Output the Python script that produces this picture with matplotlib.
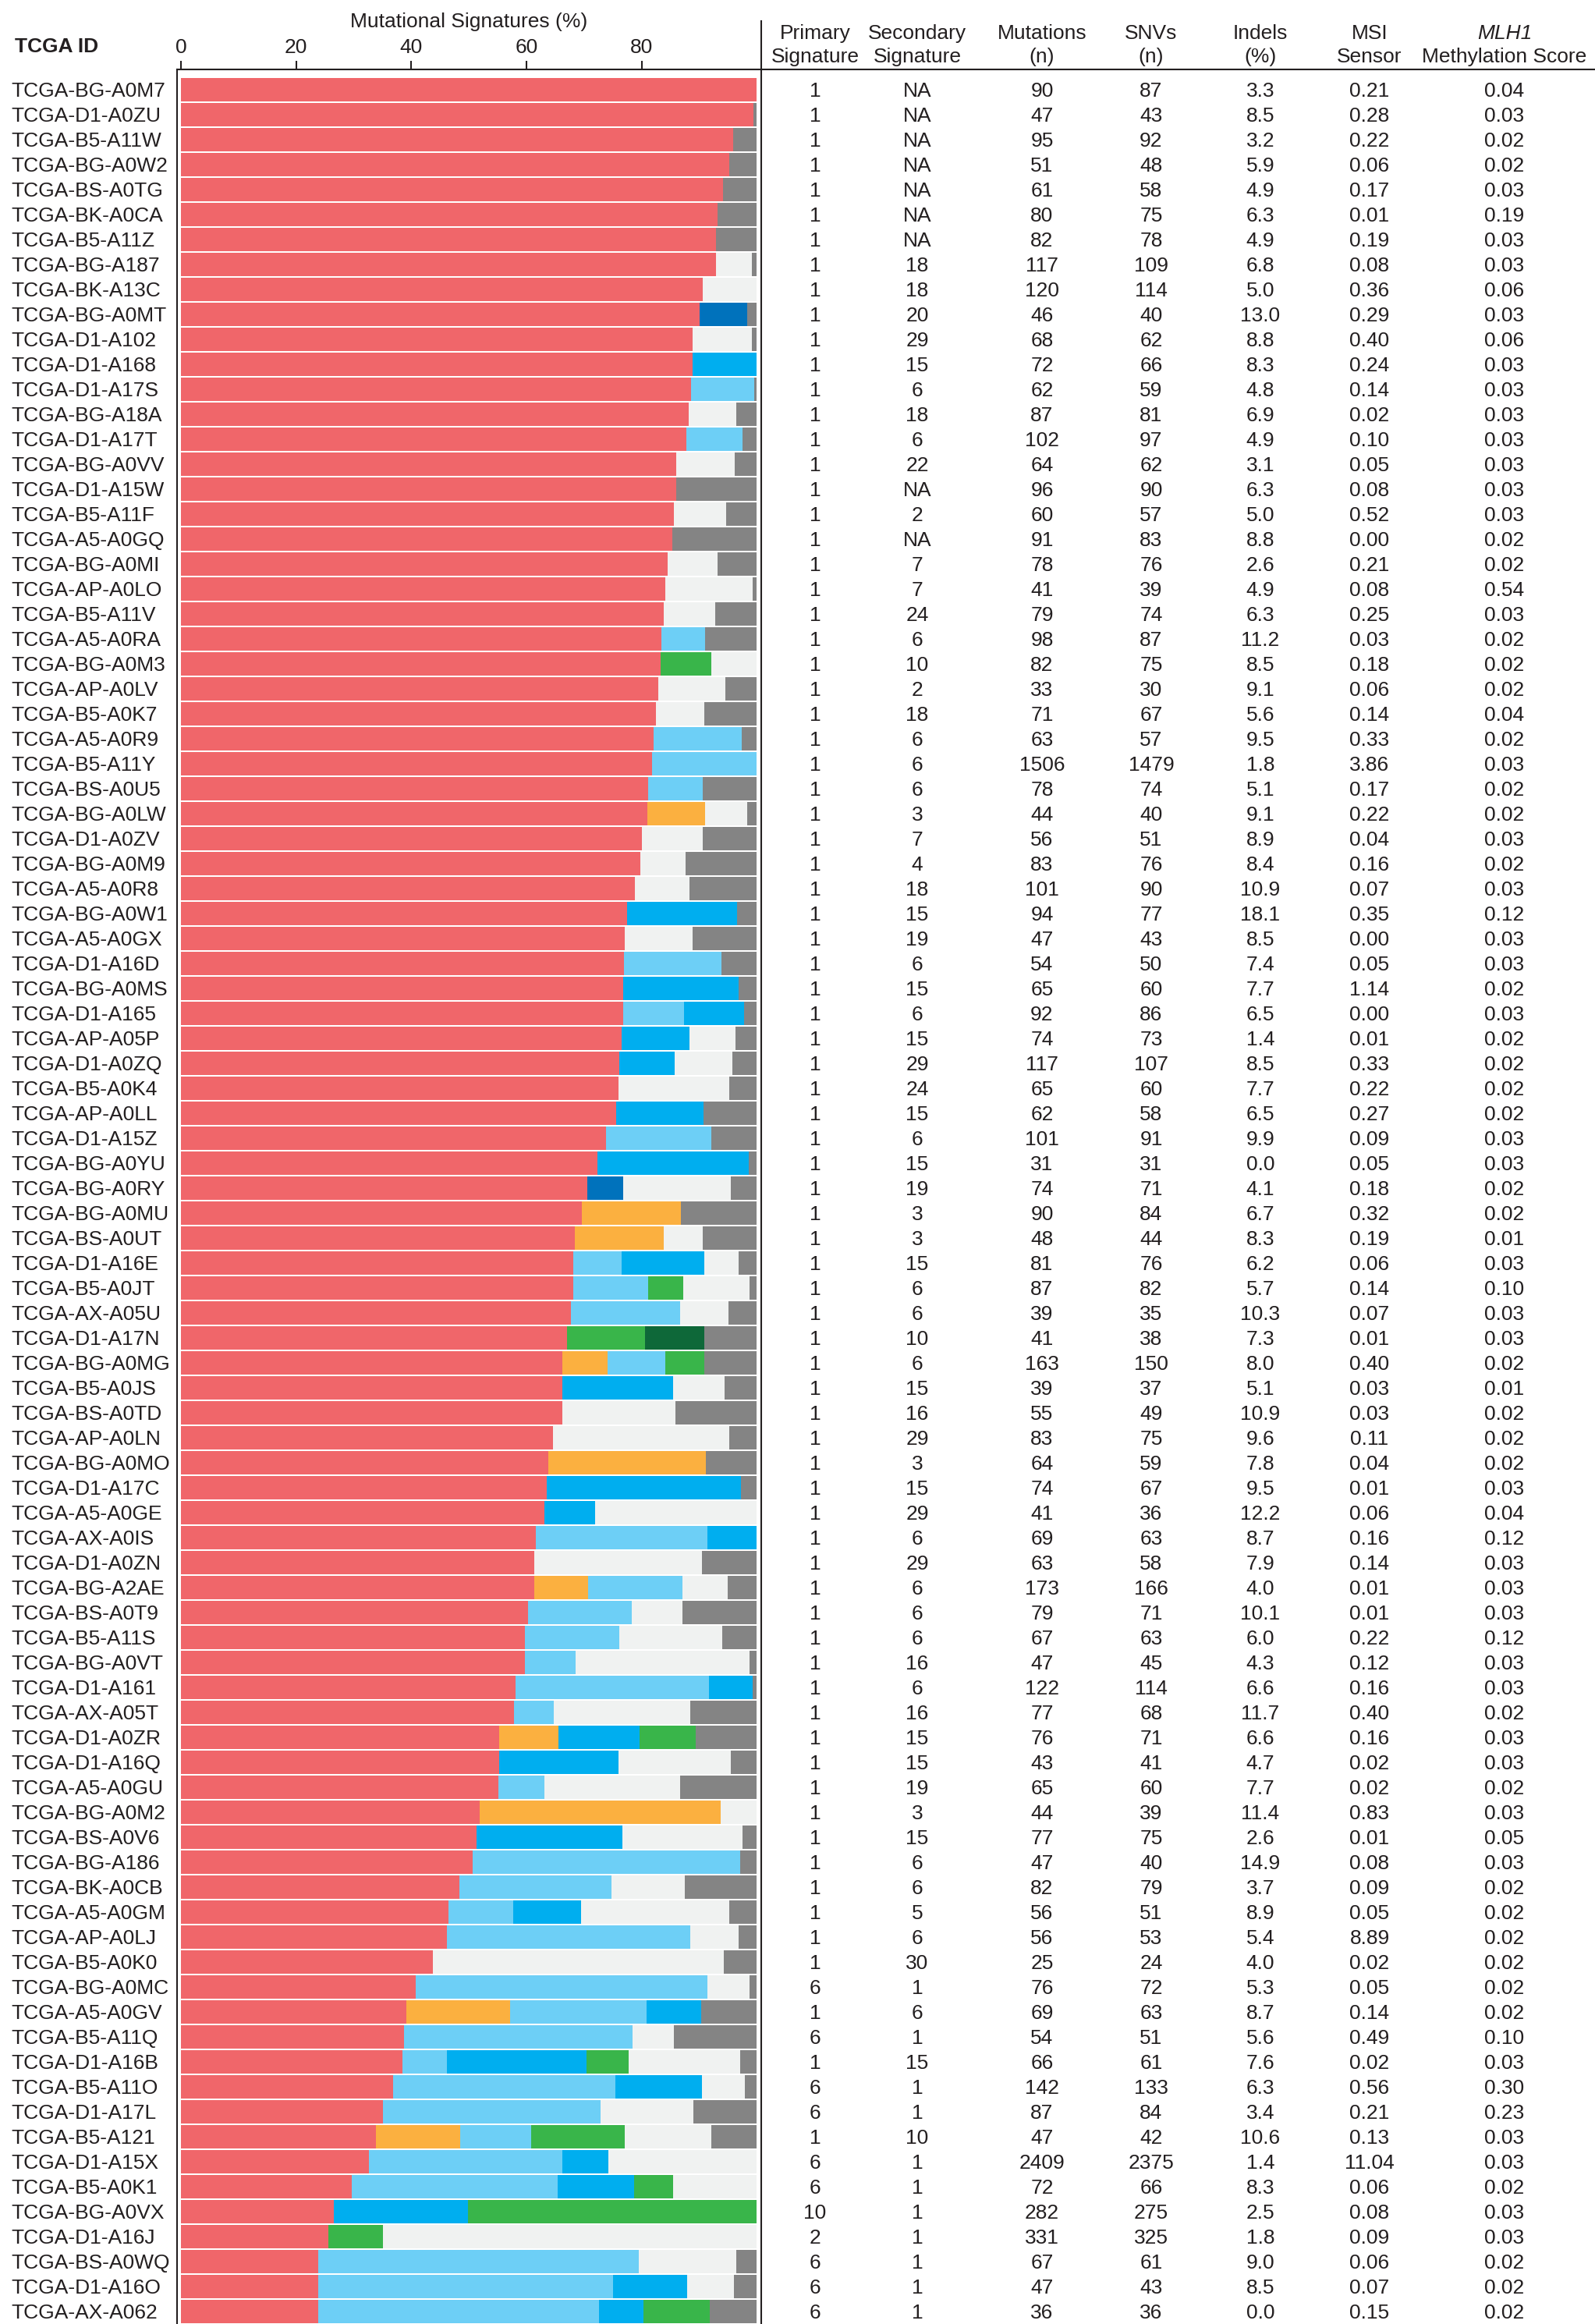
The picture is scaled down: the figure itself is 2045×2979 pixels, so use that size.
import numpy as np
import matplotlib
matplotlib.use('Agg')
import matplotlib.pyplot as plt
from matplotlib.lines import Line2D
from matplotlib.transforms import blended_transform_factory

plt.rcParams['font.family'] = ['Liberation Sans', 'DejaVu Sans']
plt.rcParams['font.size'] = 19

# ---- data (rows top to bottom) ----
tcga_ids = [
    'TCGA-BG-A0M7', 'TCGA-D1-A0ZU', 'TCGA-B5-A11W', 'TCGA-BG-A0W2', 'TCGA-BS-A0TG',
    'TCGA-BK-A0CA', 'TCGA-B5-A11Z', 'TCGA-BG-A187', 'TCGA-BK-A13C', 'TCGA-BG-A0MT',
    'TCGA-D1-A102', 'TCGA-D1-A168', 'TCGA-D1-A17S', 'TCGA-BG-A18A', 'TCGA-D1-A17T',
    'TCGA-BG-A0VV', 'TCGA-D1-A15W', 'TCGA-B5-A11F', 'TCGA-A5-A0GQ', 'TCGA-BG-A0MI',
    'TCGA-AP-A0LO', 'TCGA-B5-A11V', 'TCGA-A5-A0RA', 'TCGA-BG-A0M3', 'TCGA-AP-A0LV',
    'TCGA-B5-A0K7', 'TCGA-A5-A0R9', 'TCGA-B5-A11Y', 'TCGA-BS-A0U5', 'TCGA-BG-A0LW',
    'TCGA-D1-A0ZV', 'TCGA-BG-A0M9', 'TCGA-A5-A0R8', 'TCGA-BG-A0W1', 'TCGA-A5-A0GX',
    'TCGA-D1-A16D', 'TCGA-BG-A0MS', 'TCGA-D1-A165', 'TCGA-AP-A05P', 'TCGA-D1-A0ZQ',
    'TCGA-B5-A0K4', 'TCGA-AP-A0LL', 'TCGA-D1-A15Z', 'TCGA-BG-A0YU', 'TCGA-BG-A0RY',
    'TCGA-BG-A0MU', 'TCGA-BS-A0UT', 'TCGA-D1-A16E', 'TCGA-B5-A0JT', 'TCGA-AX-A05U',
    'TCGA-D1-A17N', 'TCGA-BG-A0MG', 'TCGA-B5-A0JS', 'TCGA-BS-A0TD', 'TCGA-AP-A0LN',
    'TCGA-BG-A0MO', 'TCGA-D1-A17C', 'TCGA-A5-A0GE', 'TCGA-AX-A0IS', 'TCGA-D1-A0ZN',
    'TCGA-BG-A2AE', 'TCGA-BS-A0T9', 'TCGA-B5-A11S', 'TCGA-BG-A0VT', 'TCGA-D1-A161',
    'TCGA-AX-A05T', 'TCGA-D1-A0ZR', 'TCGA-D1-A16Q', 'TCGA-A5-A0GU', 'TCGA-BG-A0M2',
    'TCGA-BS-A0V6', 'TCGA-BG-A186', 'TCGA-BK-A0CB', 'TCGA-A5-A0GM', 'TCGA-AP-A0LJ',
    'TCGA-B5-A0K0', 'TCGA-BG-A0MC', 'TCGA-A5-A0GV', 'TCGA-B5-A11Q', 'TCGA-D1-A16B',
    'TCGA-B5-A11O', 'TCGA-D1-A17L', 'TCGA-B5-A121', 'TCGA-D1-A15X', 'TCGA-B5-A0K1',
    'TCGA-BG-A0VX', 'TCGA-D1-A16J', 'TCGA-BS-A0WQ', 'TCGA-D1-A16O', 'TCGA-AX-A062',
]

# signature contributions (%), stacked in this order
sig1 = [100, 99.5, 95.9, 95.2, 94.2, 93.2, 92.9, 92.9, 90.6, 90.1,
        88.9, 88.9, 88.6, 88.2, 87.8, 86.0, 86.0, 85.6, 85.3, 84.5,
        84.1, 83.9, 83.4, 83.3, 82.9, 82.5, 82.1, 81.8, 81.1, 81.0,
        80.1, 79.8, 78.8, 77.5, 77.1, 76.9, 76.8, 76.8, 76.5, 76.2,
        76.0, 75.6, 73.8, 72.3, 70.6, 69.6, 68.4, 68.2, 68.2, 67.7,
        67.0, 66.3, 66.3, 66.3, 64.6, 63.8, 63.6, 63.1, 61.7, 61.4,
        61.3, 60.3, 59.8, 59.7, 58.1, 57.8, 55.3, 55.2, 55.1, 51.9,
        51.4, 50.6, 48.3, 46.5, 46.2, 43.7, 40.7, 39.2, 38.8, 38.4,
        36.9, 35.1, 33.8, 32.7, 29.7, 26.5, 25.6, 23.8, 23.8, 23.8]
sig3 = [0, 0, 0, 0, 0, 0, 0, 0, 0, 0,
        0, 0, 0, 0, 0, 0, 0, 0, 0, 0,
        0, 0, 0, 0, 0, 0, 0, 0, 0, 10.1,
        0, 0, 0, 0, 0, 0, 0, 0, 0, 0,
        0, 0, 0, 0, 0, 17.2, 15.5, 0, 0, 0,
        0, 7.8, 0, 0, 0, 27.4, 0, 0, 0, 0,
        9.4, 0, 0, 0, 0, 0, 10.2, 0, 0, 41.9,
        0, 0, 0, 0, 0, 0, 0, 17.9, 0, 0,
        0, 0, 14.7, 0, 0, 0, 0, 0, 0, 0]
sig6 = [0, 0, 0, 0, 0, 0, 0, 0, 0, 0,
        0, 0, 11.0, 0, 9.7, 0, 0, 0, 0, 0,
        0, 0, 7.7, 0, 0, 0, 15.3, 18.2, 9.6, 0,
        0, 0, 0, 0, 0, 17.0, 0, 10.6, 0, 0,
        0, 0, 18.3, 0, 0, 0, 0, 8.4, 13.0, 19.0,
        0, 10.0, 0, 0, 0, 0, 0, 0, 29.8, 0,
        16.4, 18.0, 16.3, 8.9, 33.6, 7.0, 0, 0, 8.0, 0,
        0, 46.6, 26.5, 11.2, 42.3, 0, 50.8, 23.8, 39.6, 7.8,
        38.6, 37.8, 12.3, 33.5, 35.7, 0, 0, 55.7, 51.2, 48.8]
sig15 = [0, 0, 0, 0, 0, 0, 0, 0, 0, 0,
         0, 11.1, 0, 0, 0, 0, 0, 0, 0, 0,
         0, 0, 0, 0, 0, 0, 0, 0, 0, 0,
         0, 0, 0, 19.1, 0, 0, 20.1, 10.4, 11.9, 9.5,
         0, 15.2, 0, 26.3, 0, 0, 0, 14.3, 0, 0,
         0, 0, 19.2, 0, 0, 0, 33.7, 8.8, 8.5, 0,
         0, 0, 0, 0, 7.6, 0, 14.1, 20.8, 0, 0,
         25.3, 0, 0, 11.8, 0, 0, 0, 9.5, 0, 24.3,
         15.0, 0, 0, 8.1, 13.3, 23.3, 0, 0, 12.9, 7.8]
sig20 = [0, 0, 0, 0, 0, 0, 0, 0, 0, 8.2,
         0, 0, 0, 0, 0, 0, 0, 0, 0, 0,
         0, 0, 0, 0, 0, 0, 0, 0, 0, 0,
         0, 0, 0, 0, 0, 0, 0, 0, 0, 0,
         0, 0, 0, 0, 6.2, 0, 0, 0, 0, 0,
         0, 0, 0, 0, 0, 0, 0, 0, 0, 0,
         0, 0, 0, 0, 0, 0, 0, 0, 0, 0,
         0, 0, 0, 0, 0, 0, 0, 0, 0, 0,
         0, 0, 0, 0, 0, 0, 0, 0, 0, 0]
sig10 = [0, 0, 0, 0, 0, 0, 0, 0, 0, 0,
         0, 0, 0, 0, 0, 0, 0, 0, 0, 0,
         0, 0, 0, 8.8, 0, 0, 0, 0, 0, 0,
         0, 0, 0, 0, 0, 0, 0, 0, 0, 0,
         0, 0, 0, 0, 0, 0, 0, 0, 6.0, 0,
         13.6, 6.8, 0, 0, 0, 0, 0, 0, 0, 0,
         0, 0, 0, 0, 0, 0, 9.8, 0, 0, 0,
         0, 0, 0, 0, 0, 0, 0, 0, 0, 7.2,
         0, 0, 16.3, 0, 6.8, 50.2, 9.5, 0, 0, 11.4]
sig10b = [0, 0, 0, 0, 0, 0, 0, 0, 0, 0,
          0, 0, 0, 0, 0, 0, 0, 0, 0, 0,
          0, 0, 0, 0, 0, 0, 0, 0, 0, 0,
          0, 0, 0, 0, 0, 0, 0, 0, 0, 0,
          0, 0, 0, 0, 0, 0, 0, 0, 0, 0,
          10.3, 0, 0, 0, 0, 0, 0, 0, 0, 0,
          0, 0, 0, 0, 0, 0, 0, 0, 0, 0,
          0, 0, 0, 0, 0, 0, 0, 0, 0, 0,
          0, 0, 0, 0, 0, 0, 0, 0, 0, 0]
other = [0, 0, 0, 0, 0, 0, 0, 6.3, 9.4, 0,
         10.3, 0, 0, 8.3, 0, 10.2, 0, 9.1, 0, 8.7,
         15.2, 8.9, 0, 7.9, 11.7, 8.4, 0, 0, 0, 7.3,
         10.5, 7.8, 9.6, 0, 11.8, 0, 0, 0, 7.9, 10.1,
         19.2, 0, 0, 0, 18.7, 0, 6.7, 6.0, 11.6, 8.4,
         0, 0, 8.9, 19.6, 30.6, 0, 0, 28.1, 0, 29.1,
         7.9, 8.8, 17.9, 30.2, 0, 23.7, 0, 19.5, 23.6, 6.2,
         20.9, 0, 12.7, 25.8, 8.4, 50.6, 7.3, 0, 7.2, 19.5,
         7.4, 16.1, 15.0, 25.7, 14.5, 0, 64.9, 16.9, 8.2, 0]
residual = [0, 0.5, 4.1, 4.8, 5.8, 6.8, 7.1, 0.8, 0, 1.7,
            0.8, 0, 0.4, 3.5, 2.5, 3.8, 14.0, 5.3, 14.7, 6.8,
            0.7, 7.2, 8.9, 0, 5.4, 9.1, 2.6, 0, 9.3, 1.6,
            9.4, 12.4, 11.6, 3.4, 11.1, 6.1, 3.1, 2.2, 3.7, 4.2,
            4.8, 9.2, 7.9, 1.4, 4.5, 13.2, 9.4, 3.1, 1.2, 4.9,
            9.1, 9.1, 5.6, 14.1, 4.8, 8.8, 2.7, 0, 0, 9.5,
            5.0, 12.9, 6.0, 1.2, 0.7, 11.5, 10.6, 4.5, 13.3, 0,
            2.4, 2.8, 12.5, 4.7, 3.1, 5.7, 1.2, 9.6, 14.4, 2.8,
            2.1, 11.0, 7.9, 0, 0, 0, 0, 3.6, 3.9, 8.2]

primary_sig = [1] * 76 + [6, 1, 6, 1, 6, 6, 1, 6, 6, 10, 2, 6, 6, 6]
secondary_sig = [
    'NA', 'NA', 'NA', 'NA', 'NA', 'NA', 'NA', '18', '18', '20',
    '29', '15', '6', '18', '6', '22', 'NA', '2', 'NA', '7',
    '7', '24', '6', '10', '2', '18', '6', '6', '6', '3',
    '7', '4', '18', '15', '19', '6', '15', '6', '15', '29',
    '24', '15', '6', '15', '19', '3', '3', '15', '6', '6',
    '10', '6', '15', '16', '29', '3', '15', '29', '6', '29',
    '6', '6', '6', '16', '6', '16', '15', '15', '19', '3',
    '15', '6', '6', '5', '6', '30', '1', '6', '1', '15',
    '1', '1', '10', '1', '1', '1', '1', '1', '1', '1']
mutations = [90, 47, 95, 51, 61, 80, 82, 117, 120, 46,
             68, 72, 62, 87, 102, 64, 96, 60, 91, 78,
             41, 79, 98, 82, 33, 71, 63, 1506, 78, 44,
             56, 83, 101, 94, 47, 54, 65, 92, 74, 117,
             65, 62, 101, 31, 74, 90, 48, 81, 87, 39,
             41, 163, 39, 55, 83, 64, 74, 41, 69, 63,
             173, 79, 67, 47, 122, 77, 76, 43, 65, 44,
             77, 47, 82, 56, 56, 25, 76, 69, 54, 66,
             142, 87, 47, 2409, 72, 282, 331, 67, 47, 36]
snvs = [87, 43, 92, 48, 58, 75, 78, 109, 114, 40,
        62, 66, 59, 81, 97, 62, 90, 57, 83, 76,
        39, 74, 87, 75, 30, 67, 57, 1479, 74, 40,
        51, 76, 90, 77, 43, 50, 60, 86, 73, 107,
        60, 58, 91, 31, 71, 84, 44, 76, 82, 35,
        38, 150, 37, 49, 75, 59, 67, 36, 63, 58,
        166, 71, 63, 45, 114, 68, 71, 41, 60, 39,
        75, 40, 79, 51, 53, 24, 72, 63, 51, 61,
        133, 84, 42, 2375, 66, 275, 325, 61, 43, 36]
indels = [3.3, 8.5, 3.2, 5.9, 4.9, 6.3, 4.9, 6.8, 5.0, 13.0,
          8.8, 8.3, 4.8, 6.9, 4.9, 3.1, 6.3, 5.0, 8.8, 2.6,
          4.9, 6.3, 11.2, 8.5, 9.1, 5.6, 9.5, 1.8, 5.1, 9.1,
          8.9, 8.4, 10.9, 18.1, 8.5, 7.4, 7.7, 6.5, 1.4, 8.5,
          7.7, 6.5, 9.9, 0.0, 4.1, 6.7, 8.3, 6.2, 5.7, 10.3,
          7.3, 8.0, 5.1, 10.9, 9.6, 7.8, 9.5, 12.2, 8.7, 7.9,
          4.0, 10.1, 6.0, 4.3, 6.6, 11.7, 6.6, 4.7, 7.7, 11.4,
          2.6, 14.9, 3.7, 8.9, 5.4, 4.0, 5.3, 8.7, 5.6, 7.6,
          6.3, 3.4, 10.6, 1.4, 8.3, 2.5, 1.8, 9.0, 8.5, 0.0]
msi_sensor = [0.21, 0.28, 0.22, 0.06, 0.17, 0.01, 0.19, 0.08, 0.36, 0.29,
              0.40, 0.24, 0.14, 0.02, 0.10, 0.05, 0.08, 0.52, 0.00, 0.21,
              0.08, 0.25, 0.03, 0.18, 0.06, 0.14, 0.33, 3.86, 0.17, 0.22,
              0.04, 0.16, 0.07, 0.35, 0.00, 0.05, 1.14, 0.00, 0.01, 0.33,
              0.22, 0.27, 0.09, 0.05, 0.18, 0.32, 0.19, 0.06, 0.14, 0.07,
              0.01, 0.40, 0.03, 0.03, 0.11, 0.04, 0.01, 0.06, 0.16, 0.14,
              0.01, 0.01, 0.22, 0.12, 0.16, 0.40, 0.16, 0.02, 0.02, 0.83,
              0.01, 0.08, 0.09, 0.05, 8.89, 0.02, 0.05, 0.14, 0.49, 0.02,
              0.56, 0.21, 0.13, 11.04, 0.06, 0.08, 0.09, 0.06, 0.07, 0.15]
mlh1_score = [0.04, 0.03, 0.02, 0.02, 0.03, 0.19, 0.03, 0.03, 0.06, 0.03,
              0.06, 0.03, 0.03, 0.03, 0.03, 0.03, 0.03, 0.03, 0.02, 0.02,
              0.54, 0.03, 0.02, 0.02, 0.02, 0.04, 0.02, 0.03, 0.02, 0.02,
              0.03, 0.02, 0.03, 0.12, 0.03, 0.03, 0.02, 0.03, 0.02, 0.02,
              0.02, 0.02, 0.03, 0.03, 0.02, 0.02, 0.01, 0.03, 0.10, 0.03,
              0.03, 0.02, 0.01, 0.02, 0.02, 0.02, 0.03, 0.04, 0.12, 0.03,
              0.03, 0.03, 0.12, 0.03, 0.03, 0.02, 0.03, 0.03, 0.02, 0.03,
              0.05, 0.03, 0.02, 0.02, 0.02, 0.02, 0.02, 0.02, 0.10, 0.03,
              0.30, 0.23, 0.03, 0.03, 0.02, 0.03, 0.03, 0.02, 0.02, 0.02]

# ---- styling ----
W, H = 2045, 2979
TXT = '#231F20'
seg_colors = ['#F0666A', '#FBB040', '#6DCFF6', '#00AEEF', '#0072BC',
              '#39B54A', '#0E6839', '#F0F2F1', '#848484']
segments = [sig1, sig3, sig6, sig15, sig20, sig10, sig10b, other, residual]

fig = plt.figure(figsize=(W / 100, H / 100), dpi=100)
ax = fig.add_axes([227 / W, 0, (976 - 227) / W, (H - 89) / H])

rows = np.arange(len(tcga_ids))
left = np.zeros(len(tcga_ids))
for vals, col in zip(segments, seg_colors):
    vals = np.array(vals, dtype=float)
    ax.barh(rows, vals, left=left, height=0.93, color=col, linewidth=0)
    left += vals

ax.set_xlim(-0.7, 100.8)
ax.set_ylim(89.5, -0.8125)
ax.xaxis.tick_top()
ax.set_xticks([0, 20, 40, 60, 80])
ax.tick_params(axis='x', direction='out', length=8, width=1.5, pad=3.5,
               labelsize=19, colors=TXT)
ax.set_yticks([])
for s in ['bottom', 'right']:
    ax.spines[s].set_visible(False)
for s in ['top', 'left']:
    ax.spines[s].set_linewidth(1.5)
    ax.spines[s].set_color(TXT)

# separator lines of the table part
fig.add_artist(Line2D([976 / W, 976 / W], [0, 1 - 27 / H], color=TXT, lw=1.5))
fig.add_artist(Line2D([976 / W, 1], [1 - 89 / H, 1 - 89 / H], color=TXT, lw=1.5))

# titles
ttop = blended_transform_factory(ax.transData, fig.transFigure)
ax.text(50, 1 - 28 / H, 'Mutational Signatures (%)', transform=ttop,
        ha='center', va='center', color=TXT, fontsize=19)
fig.text(19 / W, 1 - 60 / H, 'TCGA ID', fontweight='bold', ha='left',
         va='center', color=TXT, fontsize=19)

# row texts: baseline placed so the cap height is centred on the bar
trow = blended_transform_factory(fig.transFigure, ax.transData)
base_off = 0.29
for i, name in enumerate(tcga_ids):
    ax.text(14 / W, i + base_off, name, transform=trow, ha='left',
            va='baseline', color=TXT, fontsize=19)

columns = [
    (1045, ('Primary', 'Signature'), [str(v) for v in primary_sig]),
    (1176, ('Secondary', 'Signature'), secondary_sig),
    (1336, ('Mutations', '(n)'), [str(v) for v in mutations]),
    (1476, ('SNVs', '(n)'), [str(v) for v in snvs]),
    (1616, ('Indels', '(%)'), [f'{v:.1f}' for v in indels]),
    (1756, ('MSI', 'Sensor'), [f'{v:.2f}' for v in msi_sensor]),
    (1929, ('MLH1', 'Methylation Score'), [f'{v:.2f}' for v in mlh1_score]),
]
for xp, (h1, h2), vals in columns:
    fig.text(xp / W, 1 - 43 / H, h1, ha='center', va='center', color=TXT,
             fontsize=19, style='italic' if h1 == 'MLH1' else 'normal')
    fig.text(xp / W, 1 - 73 / H, h2, ha='center', va='center', color=TXT,
             fontsize=19)
    for i, v in enumerate(vals):
        ax.text(xp / W, i + base_off, v, transform=trow, ha='center',
                va='baseline', color=TXT, fontsize=19)

fig.savefig('out.png', dpi=100)
